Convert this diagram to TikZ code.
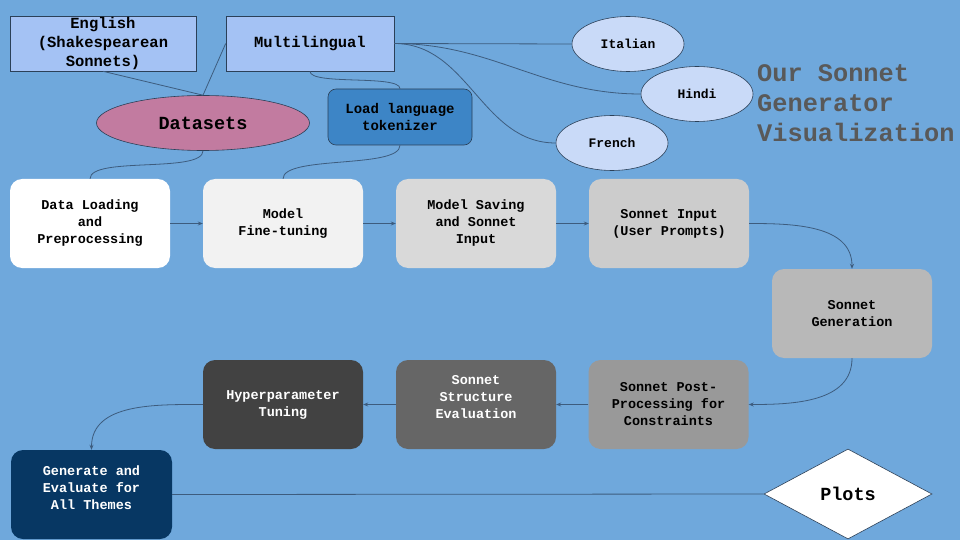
\documentclass[tikz,border=0pt]{standalone}
\usepackage{fontspec}
\setmainfont{Liberation Mono}
\usetikzlibrary{shapes.geometric,arrows.meta}
\definecolor{bg}{HTML}{6FA8DC}
\definecolor{lnc}{HTML}{3D5C7E}
\definecolor{lblue}{HTML}{A4C2F4}
\definecolor{pblue}{HTML}{C9DAF8}
\definecolor{pink}{HTML}{C27BA0}
\definecolor{tokb}{HTML}{3D85C6}
\definecolor{titleg}{HTML}{595959}
\definecolor{navy}{HTML}{073763}
\tikzset{
  sqbox/.style={draw=lnc!70!black, line width=0.6pt, fill=lblue, minimum width=#1, minimum height=55pt, inner sep=0pt, align=center, font=\bfseries\fontsize{15.5}{19}\selectfont},
  lang/.style={ellipse, draw=lnc!70!black, line width=0.6pt, fill=pblue, minimum width=112pt, minimum height=55pt, inner sep=0pt, font=\bfseries\fontsize{13}{15}\selectfont},
  stepbox/.style={rounded corners=12pt, fill=#1, minimum width=160pt, minimum height=89pt, inner sep=0pt, align=center, font=\bfseries\fontsize{13.5}{17}\selectfont},
  conn/.style={draw=lnc, line width=0.8pt},
  flow/.style={conn, -{Stealth[length=5pt,width=4pt]}},
}
\begin{document}
\begin{tikzpicture}[x=1pt,y=-1pt]
\fill[bg] (0,0) rectangle (960,540);
\useasboundingbox (0,0) rectangle (960,540);

% dataset nodes
\node[sqbox=186pt] (eng) at (103,43.5) {English\\(Shakespearean\\Sonnets)};
\node[sqbox=168pt] (multi) at (310,43.5) {Multilingual};
\node[ellipse, draw=lnc!70!black, line width=0.6pt, fill=pink, minimum width=213pt, minimum height=55pt, inner sep=0pt, font=\bfseries\fontsize{18.5}{20}\selectfont] (data) at (203,123) {Datasets};
\node[rounded corners=8pt, draw=lnc!70!black, line width=0.6pt, fill=tokb, minimum width=144pt, minimum height=56pt, inner sep=0pt, align=center, font=\bfseries\fontsize{14}{17}\selectfont] (tok) at (400,117) {Load language\\tokenizer};
\node[lang] (ita) at (628,44) {Italian};
\node[lang] (hin) at (697,94) {Hindi};
\node[lang] (fre) at (612,143) {French};

\node[anchor=north west, inner sep=0pt, align=left, text=titleg, font=\bfseries\fontsize{25.3}{30}\selectfont] (title) at (757,64) {Our Sonnet\\Generator\\Visualization};

% process boxes
\node[stepbox=white] (load) at (90,223.5) {Data Loading\\and\\Preprocessing};
\node[stepbox={black!5}] (fine) at (283,223.5) {Model\\Fine-tuning};
\node[stepbox={black!15}] (save) at (476,223.5) {Model Saving\\and Sonnet\\Input};
\node[stepbox={black!20}] (input) at (669,223.5) {Sonnet Input\\(User Prompts)};
\node[stepbox={black!28}] (gen) at (852,313.5) {Sonnet\\Generation};
\node[stepbox={black!40}] (post) at (668.5,404.5) {Sonnet Post-\\Processing for\\Constraints};
\node[stepbox={black!60}, label={[name=structt, text=white, align=center, font=\bfseries\fontsize{13.5}{17}\selectfont, yshift=7pt]center:Sonnet\\Structure\\Evaluation}] (struct) at (476,404.5) {};
\node[stepbox={black!74}, text=white] (hyper) at (283,404.5) {Hyperparameter\\Tuning};
\node[stepbox=navy, minimum width=161pt, label={[name=gent, text=white, align=center, font=\bfseries\fontsize{13.5}{17}\selectfont, yshift=7pt]center:Generate and\\Evaluate for\\All Themes}] (genev) at (91.5,494.5) {};
\node[diamond, aspect=1.87, fill=white, draw=lnc!70!black, line width=0.6pt, minimum width=168pt, minimum height=90pt, inner sep=0pt, font=\bfseries\fontsize{18.5}{20}\selectfont] (plots) at (848,494) {Plots};

% top connectors
\draw[conn] (eng.south) -- (data.north);
\draw[conn] (multi.west) -- (data.north);
\draw[conn] (multi.south) to[out=-90,in=90,looseness=0.4] (tok.north);
\draw[conn] (multi.east) -- (ita.west);
\draw[conn] (multi.east) to[out=0,in=180] (hin.west);
\draw[conn] (multi.east) to[out=0,in=180] (fre.west);
\draw[conn] (data.south) to[out=-90,in=90,looseness=0.5] (load.north);
\draw[conn] (tok.south) to[out=-90,in=90,looseness=0.5] (fine.north);

% flow
\draw[flow] (load.east) -- (fine.west);
\draw[flow] (fine.east) -- (save.west);
\draw[flow] (save.east) -- (input.west);
\draw[flow] (input.east) to[out=0,in=90] (gen.north);
\draw[flow] (gen.south) to[out=-90,in=0] (post.east);
\draw[flow] (post.west) -- (struct.east);
\draw[flow] (struct.west) -- (hyper.east);
\draw[flow] (hyper.west) to[out=180,in=90] (genev.north);
\draw[conn] (genev.east) -- (plots.west);
\end{tikzpicture}
\end{document}
